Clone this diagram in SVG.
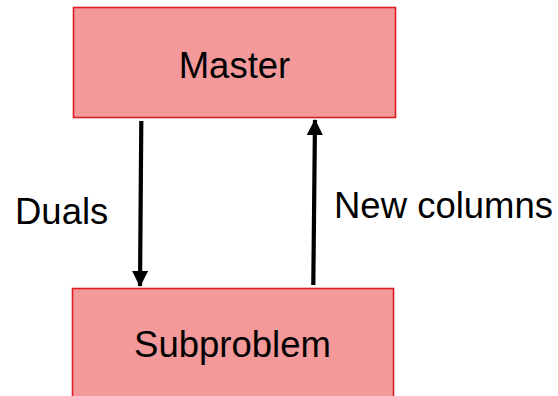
<svg xmlns="http://www.w3.org/2000/svg" width="558" height="396" viewBox="0 0 558 396">
  <style>
    .box { fill: #f4999a; stroke: #dd1c24; stroke-width: 1.6; }
    .label { font-family: "Liberation Sans", Arial, sans-serif; font-size: 36.5px; fill: #000; }
    .arrow { stroke: #000; stroke-width: 4.2; fill: none; }
  </style>
  <defs>
    <marker id="head" markerUnits="userSpaceOnUse" markerWidth="16" markerHeight="16" viewBox="0 0 16 16" refX="15" refY="8" orient="auto">
      <path d="M0,0 L16,8 L0,16 Z" fill="#000"/>
    </marker>
  </defs>

  <g id="master">
    <rect class="box" x="73.5" y="7.5" width="322" height="110"/>
    <text class="label" x="234.5" y="78" text-anchor="middle">Master</text>
  </g>

  <g id="subproblem">
    <rect class="box" x="72.5" y="288.5" width="321" height="120"/>
    <text class="label" x="232.5" y="357" text-anchor="middle">Subproblem</text>
  </g>

  <g id="connectors">
    <line class="arrow" x1="141.3" y1="121" x2="140" y2="286" marker-end="url(#head)"/>
    <text class="label" x="15" y="224">Duals</text>
    <line class="arrow" x1="313.3" y1="285" x2="315" y2="120" marker-end="url(#head)"/>
    <text class="label" x="334" y="218">New columns</text>
  </g>
</svg>
